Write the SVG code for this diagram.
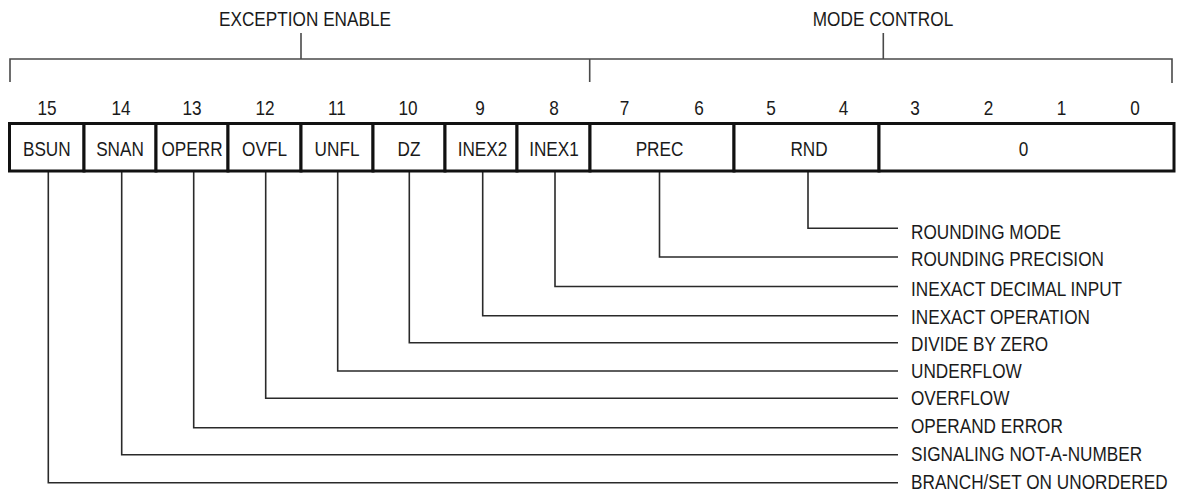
<svg xmlns="http://www.w3.org/2000/svg" width="1177" height="498" viewBox="0 0 1177 498">
<style>
text{font-family:"Liberation Sans",Arial,sans-serif;font-size:20px;fill:#1a1a1a}
.c{text-anchor:middle}
.cell{fill:#fff;stroke:#111;stroke-width:3}
.br{fill:none;stroke:#4a4a4a;stroke-width:1.6}
.ld{fill:none;stroke:#2a2a2a;stroke-width:1.6}
</style>
<rect width="1177" height="498" fill="#fff"/>
<g id="brackets">
<path class="br" d="M10 82V59H1172V83M301 33V59M589.7 59V82M883.3 33V59"/>
<text id="lbl-exception" class="c" transform="matrix(0.86 0 0 1 305 26)">EXCEPTION ENABLE</text>
<text id="lbl-mode" class="c" transform="matrix(0.86 0 0 1 883 26)">MODE CONTROL</text>
</g>
<g id="bitnums">
<text class="c" transform="matrix(0.86 0 0 1 47 115)">15</text>
<text class="c" transform="matrix(0.86 0 0 1 121 115)">14</text>
<text class="c" transform="matrix(0.86 0 0 1 192 115)">13</text>
<text class="c" transform="matrix(0.86 0 0 1 265 115)">12</text>
<text class="c" transform="matrix(0.86 0 0 1 337 115)">11</text>
<text class="c" transform="matrix(0.86 0 0 1 408 115)">10</text>
<text class="c" transform="matrix(0.86 0 0 1 480 115)">9</text>
<text class="c" transform="matrix(0.86 0 0 1 554 115)">8</text>
<text class="c" transform="matrix(0.86 0 0 1 624.5 115)">7</text>
<text class="c" transform="matrix(0.86 0 0 1 699 115)">6</text>
<text class="c" transform="matrix(0.86 0 0 1 771 115)">5</text>
<text class="c" transform="matrix(0.86 0 0 1 843.5 115)">4</text>
<text class="c" transform="matrix(0.86 0 0 1 915 115)">3</text>
<text class="c" transform="matrix(0.86 0 0 1 988.5 115)">2</text>
<text class="c" transform="matrix(0.86 0 0 1 1061.5 115)">1</text>
<text class="c" transform="matrix(0.86 0 0 1 1135 115)">0</text>
</g>
<g id="connectors">
<path class="ld" d="M808 171V228.3H898"/>
<path class="ld" d="M659.5 171V257H898"/>
<path class="ld" d="M555 171V286.5H898"/>
<path class="ld" d="M482.7 171V315.7H898"/>
<path class="ld" d="M409.3 171V342.7H898"/>
<path class="ld" d="M337.7 171V371H898"/>
<path class="ld" d="M265.7 171V398.3H898"/>
<path class="ld" d="M193.7 171V427.7H898"/>
<path class="ld" d="M121.7 171V454.7H898"/>
<path class="ld" d="M48.3 171V482.7H898"/>
</g>
<g id="bsun"><rect class="cell" x="9.5" y="123.5" width="74.5" height="47.5"/><text class="c" transform="matrix(0.86 0 0 1 46.8 156)">BSUN</text></g>
<g id="snan"><rect class="cell" x="84" y="123.5" width="72" height="47.5"/><text class="c" transform="matrix(0.86 0 0 1 120 156)">SNAN</text></g>
<g id="operr"><rect class="cell" x="156" y="123.5" width="72" height="47.5"/><text class="c" transform="matrix(0.86 0 0 1 192 156)">OPERR</text></g>
<g id="ovfl"><rect class="cell" x="228" y="123.5" width="73" height="47.5"/><text class="c" transform="matrix(0.86 0 0 1 264.5 156)">OVFL</text></g>
<g id="unfl"><rect class="cell" x="301" y="123.5" width="72" height="47.5"/><text class="c" transform="matrix(0.86 0 0 1 337 156)">UNFL</text></g>
<g id="dz"><rect class="cell" x="373" y="123.5" width="72" height="47.5"/><text class="c" transform="matrix(0.86 0 0 1 409 156)">DZ</text></g>
<g id="inex2"><rect class="cell" x="445" y="123.5" width="72" height="47.5"/><text class="c" transform="matrix(0.86 0 0 1 482.5 156)">INEX2</text></g>
<g id="inex1"><rect class="cell" x="517" y="123.5" width="73" height="47.5"/><text class="c" transform="matrix(0.86 0 0 1 554 156)">INEX1</text></g>
<g id="prec"><rect class="cell" x="590" y="123.5" width="144" height="47.5"/><text class="c" transform="matrix(0.86 0 0 1 659.5 156)">PREC</text></g>
<g id="rnd"><rect class="cell" x="734" y="123.5" width="145" height="47.5"/><text class="c" transform="matrix(0.86 0 0 1 809 156)">RND</text></g>
<g id="zero"><rect class="cell" x="879" y="123.5" width="295" height="47.5"/><text class="c" transform="matrix(0.86 0 0 1 1023.5 156)">0</text></g>
<g id="descriptions">
<text transform="matrix(0.86 0 0 1 911 238.5)">ROUNDING MODE</text>
<text transform="matrix(0.86 0 0 1 911 265.7)">ROUNDING PRECISION</text>
<text transform="matrix(0.86 0 0 1 911 296)">INEXACT DECIMAL INPUT</text>
<text transform="matrix(0.86 0 0 1 911 324)">INEXACT OPERATION</text>
<text transform="matrix(0.86 0 0 1 911 351)">DIVIDE BY ZERO</text>
<text transform="matrix(0.86 0 0 1 911 377.7)">UNDERFLOW</text>
<text transform="matrix(0.86 0 0 1 911 405)">OVERFLOW</text>
<text transform="matrix(0.86 0 0 1 911 433.3)">OPERAND ERROR</text>
<text transform="matrix(0.86 0 0 1 911 461)">SIGNALING NOT-A-NUMBER</text>
<text transform="matrix(0.86 0 0 1 911 489)">BRANCH/SET ON UNORDERED</text>
</g>
</svg>
